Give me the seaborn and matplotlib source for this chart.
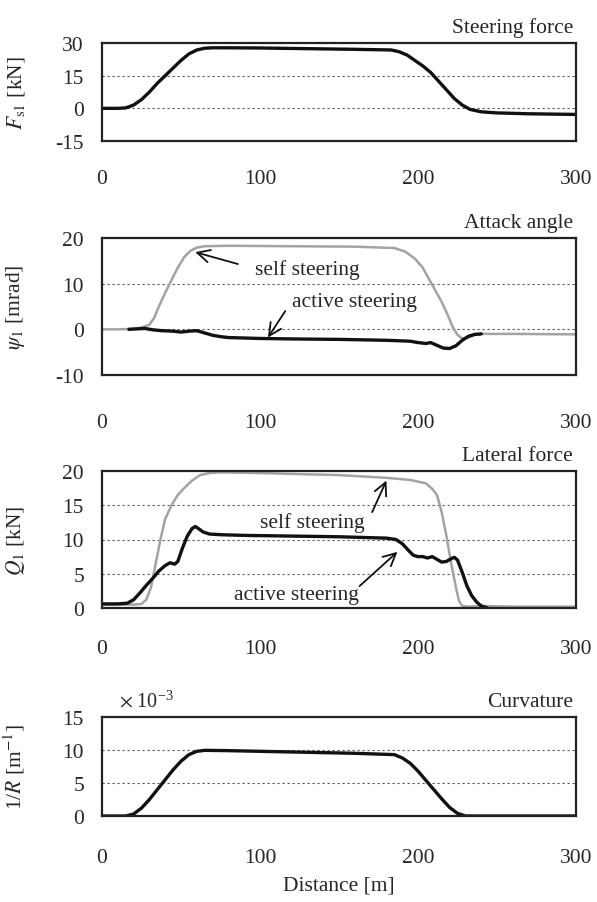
import numpy as np
import pandas as pd
import matplotlib
matplotlib.use("Agg")
import matplotlib.pyplot as plt
import seaborn as sns

# ---- data ---------------------------------------------------------------
# Steering force F_s1 [kN] vs distance [m]
fs_dist = [0, 10, 15, 20, 25, 30, 35, 40, 45, 50, 55, 60, 65, 70, 80, 100, 130,
           160, 183, 188, 193, 198, 203, 208, 213, 218, 223, 228, 233, 240, 250,
           270, 300]
fs_val = [0, 0, 0.2, 1.5, 4, 7.5, 11.5, 15, 18.5, 22, 25, 26.8, 27.6, 27.8,
          27.8, 27.7, 27.4, 27.1, 26.8, 26.0, 24.5, 22.0, 19.5, 16.5, 12.5, 8.5,
          4.5, 1.5, -0.5, -1.6, -2.1, -2.5, -2.8]

# Attack angle psi_1 [mrad], self steering
aa_self_dist = [0, 10, 20, 25, 30, 33, 36, 40, 44, 48, 52, 56, 60, 65, 80, 120,
                160, 185, 192, 198, 203, 207, 211, 215, 219, 222, 225, 228, 232,
                236, 240, 260, 300]
aa_self_val = [0, 0, 0.1, 0.4, 1.0, 2.5, 5, 8, 10.8, 13.5, 15.8, 17.2, 17.9,
               18.2, 18.3, 18.2, 18.1, 17.8, 17.0, 15.5, 13.5, 11.0, 8.5, 6.0,
               3.0, 0.5, -1.2, -2.0, -1.8, -1.2, -1.0, -1.0, -1.1]

# Attack angle psi_1 [mrad], active steering
aa_act_dist = [17, 22, 27, 32, 38, 45, 50, 55, 60, 65, 70, 75, 80, 90, 100, 120,
               150, 180, 195, 200, 205, 208, 212, 216, 220, 224, 228, 232, 236,
               240]
aa_act_val = [0, 0.1, 0.2, -0.1, -0.3, -0.4, -0.6, -0.4, -0.3, -0.8, -1.3, -1.6,
              -1.8, -1.9, -2.0, -2.1, -2.2, -2.4, -2.6, -2.9, -3.1, -2.9, -3.5,
              -4.1, -4.2, -3.6, -2.4, -1.5, -1.1, -1.0]

# Lateral force Q_1 [kN], self steering
lf_self_dist = [0, 10, 20, 25, 28, 31, 34, 37, 40, 44, 48, 52, 57, 62, 68, 75,
                100, 150, 180, 195, 205, 209, 212, 215, 218, 221, 224, 226, 228,
                232, 240, 260, 300]
lf_self_val = [0.5, 0.5, 0.5, 0.6, 1.2, 3.0, 6.5, 10, 13, 15, 16.5, 17.5, 18.6,
               19.4, 19.7, 19.8, 19.7, 19.4, 19.0, 18.7, 18.2, 17.4, 16.5, 14,
               10.5, 6.5, 3, 1, 0.3, 0.2, 0.3, 0.2, 0.2]

# Lateral force Q_1 [kN], active steering
lf_act_dist = [0, 10, 16, 20, 24, 28, 32, 36, 40, 43, 46, 48, 51, 54, 57, 59,
               61, 64, 68, 75, 90, 120, 150, 180, 186, 190, 194, 197, 200, 203,
               206, 209, 212, 215, 218, 221, 223, 225, 228, 231, 234, 237, 240,
               244]
lf_act_val = [0.6, 0.6, 0.7, 1.2, 2.2, 3.3, 4.3, 5.4, 6.2, 6.6, 6.4, 6.8, 8.8,
              10.5, 11.6, 11.9, 11.6, 11.1, 10.8, 10.7, 10.6, 10.5, 10.4, 10.2,
              10.0, 9.4, 8.4, 7.7, 7.5, 7.5, 7.3, 7.5, 7.1, 6.7, 6.8, 7.2, 7.4,
              7.0, 5.2, 3.2, 1.8, 0.9, 0.3, 0.0]

# Curvature 1/R [1e-3 m^-1]
cv_dist = [0, 10, 15, 20, 25, 30, 35, 40, 45, 50, 55, 60, 65, 80, 120, 160, 185,
           190, 195, 200, 205, 210, 215, 220, 225, 230, 240, 300]
cv_val = [0, 0, 0, 0.3, 1.2, 2.5, 4, 5.5, 7, 8.3, 9.3, 9.8, 9.95, 9.9, 9.7, 9.5,
          9.3, 8.8, 8.0, 6.8, 5.4, 4.0, 2.6, 1.3, 0.4, 0, 0, 0]

x_ticks = [0, 100, 200, 300]

# ---- style --------------------------------------------------------------
sns.set_style("white")
plt.rcParams["font.family"] = ["Liberation Serif", "DejaVu Serif"]
plt.rcParams["mathtext.fontset"] = "stix"
FS = 15.5

BLACK = "#111111"
GREY = "#a3a3a3"

fig = plt.figure(figsize=(5.97, 9.03), dpi=100)

W, H = 597.0, 903.0
left_px, right_px = 102, 576


def make_axes(top_px, bottom_px):
    return fig.add_axes([left_px / W, 1 - bottom_px / H,
                         (right_px - left_px) / W, (bottom_px - top_px) / H])


def style_axes(ax, yticks, ylabel, title, xpad):
    ax.set_xlim(0, 300)
    ax.set_ylim(yticks[0], yticks[-1])
    ax.set_xticks(x_ticks)
    ax.set_yticks(yticks)
    ax.set_xticklabels([str(t) for t in x_ticks])
    ax.set_yticklabels([str(t) for t in yticks])
    ax.tick_params(axis="x", direction="in", length=5, width=1.0,
                   pad=xpad, labelsize=FS, color=BLACK)
    ax.tick_params(axis="y", length=0, pad=13, labelsize=FS)
    for y in yticks[1:-1]:
        ax.axhline(y, color="#555555", lw=0.8, ls=(0, (2, 2.5)), zorder=0)
    for s in ax.spines.values():
        s.set_linewidth(1.6)
        s.set_color("#222222")
        s.set_visible(True)
    ax.set_xlabel("")
    ax.set_ylabel(ylabel, fontsize=FS)
    ax.yaxis.set_label_coords(-0.158, 0.5)
    ax.annotate(title, xy=(1, 1), xycoords="axes fraction",
                xytext=(-2, 8), textcoords="offset points",
                ha="right", va="baseline", fontsize=FS)


def line(ax, x, y, color, lw):
    df = pd.DataFrame({"x": x, "y": y})
    sns.lineplot(data=df, x="x", y="y", ax=ax, color=color, linewidth=lw,
                 sort=False, legend=False)


arrow_kw = dict(arrowstyle="->,head_length=0.9,head_width=0.45",
                color=BLACK, lw=1.3, shrinkA=0, shrinkB=0)

# Steering force
ax1 = make_axes(44, 142)
line(ax1, fs_dist, fs_val, BLACK, 2.4)
style_axes(ax1, [-15, 0, 15, 30], r"$F_{\rm s1}$ [kN]", "Steering force", 20)

# Attack angle
ax2 = make_axes(239, 376)
line(ax2, aa_self_dist, aa_self_val, GREY, 1.8)
line(ax2, aa_act_dist, aa_act_val, BLACK, 2.4)
style_axes(ax2, [-10, 0, 10, 20], r"$\psi_1$ [mrad]", "Attack angle", 27)
ax2.annotate("self steering", xy=(130, 13.2), fontsize=FS,
             ha="center", va="center")
ax2.annotate("", xy=(59, 16.9), xytext=(86, 14.3), arrowprops=arrow_kw)
ax2.annotate("active steering", xy=(160, 6.2), fontsize=FS,
             ha="center", va="center")
ax2.annotate("", xy=(105, -1.8), xytext=(116, 4.0), arrowprops=arrow_kw)

# Lateral force
ax3 = make_axes(472, 609)
line(ax3, lf_self_dist, lf_self_val, GREY, 1.8)
line(ax3, lf_act_dist, lf_act_val, BLACK, 2.4)
style_axes(ax3, [0, 5, 10, 15, 20], r"$Q_1$ [kN]", "Lateral force", 22)
ax3.annotate("self steering", xy=(133, 12.6), fontsize=FS,
             ha="center", va="center")
ax3.annotate("", xy=(180, 18.6), xytext=(171, 14.0), arrowprops=arrow_kw)
ax3.annotate("active steering", xy=(123, 2.0), fontsize=FS,
             ha="center", va="center")
ax3.annotate("", xy=(187, 8.2), xytext=(163, 3.2), arrowprops=arrow_kw)

# Curvature
ax4 = make_axes(718, 817)
line(ax4, cv_dist, cv_val, BLACK, 2.4)
style_axes(ax4, [0, 5, 10, 15], r"1/$R$ [m$^{-1}$]", "Curvature", 23)
ax4.annotate(r"$\times$ 10$^{\mathregular{-3}}$", xy=(0, 1), xycoords="axes fraction",
             xytext=(12, 8), textcoords="offset points",
             ha="left", va="baseline", fontsize=FS - 1)
ax4.set_xlabel("Distance [m]", fontsize=FS, labelpad=6)

fig.savefig("out.png", dpi=100)
